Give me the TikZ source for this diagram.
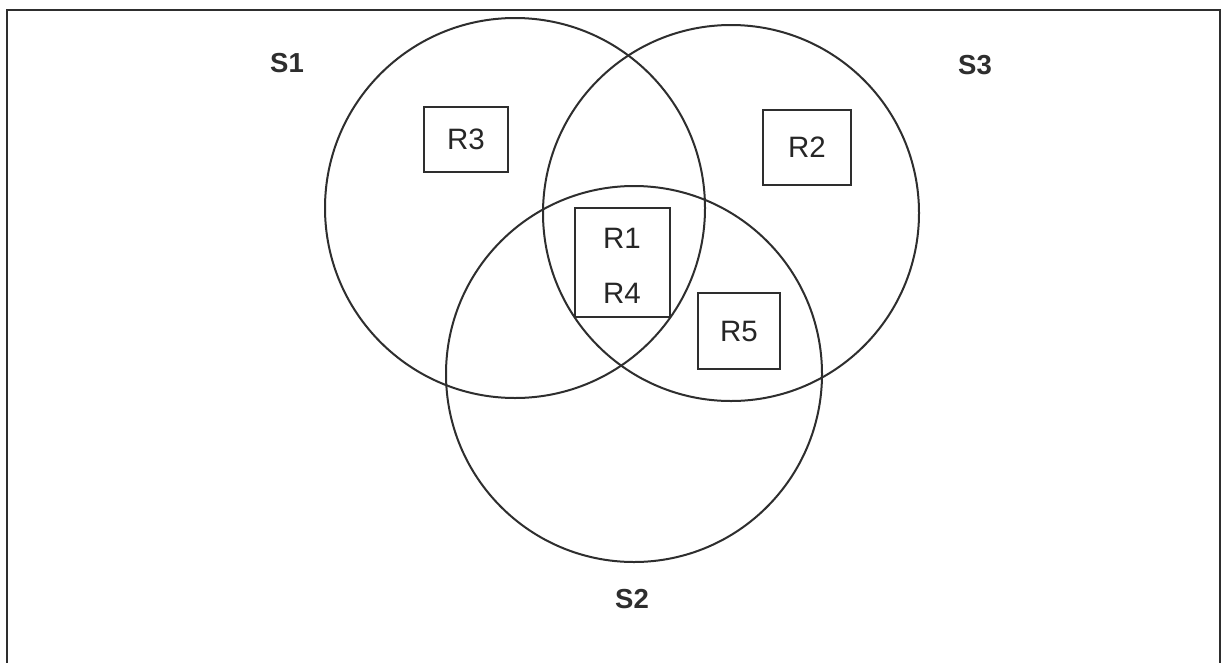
\documentclass[tikz,border=0pt]{standalone}
\usepackage{fontspec}
\setmainfont{Liberation Sans}
\begin{document}
\begin{tikzpicture}[x=1pt,y=-1pt,
  ink/.style={draw=black!82, line width=2pt},
  setcircle/.style={ink, circle, inner sep=0pt},
  reqbox/.style={ink, rectangle, inner sep=0pt},
  setlabel/.style={font=\fontsize{27.5}{27.5}\selectfont\bfseries, text=black!82},
  reqlabel/.style={font=\fontsize{29.5}{29.5}\selectfont, text=black!85}]
  \clip (0,0) rectangle (1225,662);
  \fill[white] (0,0) rectangle (1225,662);
  % frame around the figure
  \draw[ink] (7,10) rectangle (1220,680);
  % the three sets
  \node[setcircle, minimum size=380pt] (s1) at (515,208) {};
  \node[setcircle, minimum size=376pt] (s3) at (731,213) {};
  \node[setcircle, minimum size=376pt] (s2) at (634,374) {};
  \node[setlabel] (l1) at (287,63) {S1};
  \node[setlabel] (l3) at (975,65) {S3};
  \node[setlabel] (l2) at (632,599) {S2};
  % requirement boxes
  \node[reqbox, minimum width=84pt, minimum height=65pt] (r3) at (466,139.5) {};
  \node[reqlabel] at (r3) {R3};
  \node[reqbox, minimum width=88pt, minimum height=75pt] (r2) at (807,147.5) {};
  \node[reqlabel] at (r2) {R2};
  \node[reqbox, minimum width=95pt, minimum height=109pt] (r14) at (622.5,262.5) {};
  \node[reqlabel] (r1) at (622,238) {R1};
  \node[reqlabel] (r4) at (622,293) {R4};
  \node[reqbox, minimum width=82pt, minimum height=76pt] (r5) at (739,331) {};
  \node[reqlabel] at (r5) {R5};
\end{tikzpicture}
\end{document}
